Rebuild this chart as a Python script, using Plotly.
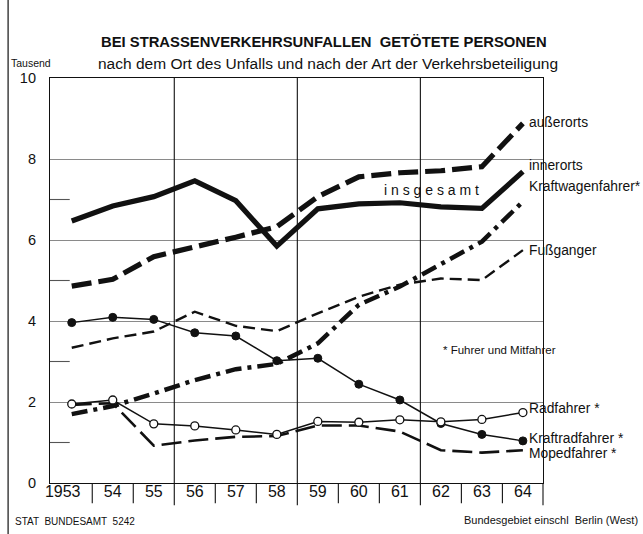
import plotly.graph_objects as go

# ---------------- data (Tausend) ----------------
years = [1953, 1954, 1955, 1956, 1957, 1958, 1959, 1960, 1961, 1962, 1963, 1964]
year_labels = ["1953", "54", "55", "56", "57", "58", "59", "60", "61", "62", "63", "64"]

ausserorts = [4.86, 5.03, 5.59, 5.82, 6.07, 6.33, 7.07, 7.56, 7.66, 7.71, 7.81, 8.88]
innerorts = [6.47, 6.84, 7.07, 7.46, 6.97, 5.85, 6.77, 6.89, 6.92, 6.82, 6.78, 7.69]
kraftwagenfahrer = [1.70, 1.90, 2.21, 2.54, 2.81, 2.94, 3.45, 4.40, 4.85, 5.42, 5.96, 6.95]
fussganger = [3.34, 3.57, 3.74, 4.23, 3.88, 3.75, 4.19, 4.60, 4.90, 5.05, 5.01, 5.75]
kraftradfahrer = [3.96, 4.09, 4.04, 3.71, 3.63, 3.02, 3.08, 2.44, 2.05, 1.47, 1.20, 1.04]
radfahrer = [1.95, 2.05, 1.46, 1.41, 1.31, 1.20, 1.52, 1.50, 1.56, 1.51, 1.57, 1.74]
mopedfahrer = [1.93, 1.97, 0.92, 1.05, 1.14, 1.16, 1.42, 1.42, 1.27, 0.81, 0.75, 0.81]

y_ticks = [0, 2, 4, 6, 8, 10]
y_minor = [1, 3, 5, 7]
major_x_grid = [1955.5, 1958.5, 1961.5]
minor_x_sep = [1953.5, 1954.5, 1956.5, 1957.5, 1959.5, 1960.5, 1962.5, 1963.5]

# end labels: (text, y-value of label)
end_labels = [
    ("außerorts", 8.91),
    ("innerorts", 7.83),
    ("Kraftwagenfahrer*", 7.31),
    ("Fußganger", 5.73),
    ("Radfahrer *", 1.85),
    ("Kraftradfahrer *", 1.11),
    ("Mopedfahrer *", 0.74),
]

# ---------------- styling ----------------
INK = "#111111"
SANS = "Liberation Sans, Arial, sans-serif"
X0, X1 = 1952.47, 1964.49

fig = go.Figure()

def line(y, width, dash, name, mode="lines", marker=None):
    fig.add_trace(go.Scatter(
        x=years, y=y, mode=mode, name=name,
        line=dict(color=INK, width=width, dash=dash),
        marker=marker, showlegend=False, hoverinfo="skip", cliponaxis=False,
    ))

line(mopedfahrer, 2.6, "20px,7px", "Mopedfahrer")
line(fussganger, 2.4, "12px,6px", "Fußganger")
line(kraftwagenfahrer, 4.5, "16px,6px,4px,6px", "Kraftwagenfahrer")
line(ausserorts, 5.2, "20px,7px", "außerorts")
line(innerorts, 5.2, "solid", "innerorts")
line(kraftradfahrer, 1.5, "solid", "Kraftradfahrer", mode="lines+markers",
     marker=dict(size=8, color=INK, line=dict(color=INK, width=1)))
line(radfahrer, 1.5, "solid", "Radfahrer", mode="lines+markers",
     marker=dict(size=8, color="white", line=dict(color=INK, width=1.3)))

shapes = []
for gx in major_x_grid:
    shapes.append(dict(type="line", xref="x", yref="paper", x0=gx, x1=gx, y0=-0.055, y1=1,
                       line=dict(color=INK, width=1.1)))
for sx in minor_x_sep:
    shapes.append(dict(type="line", xref="x", yref="paper", x0=sx, x1=sx, y0=-0.05, y1=0,
                       line=dict(color=INK, width=1.1)))
shapes.append(dict(type="line", xref="paper", yref="paper", x0=1, x1=1, y0=-0.055, y1=0,
                   line=dict(color=INK, width=1.1)))
for my in y_minor:
    shapes.append(dict(type="line", xref="paper", yref="y", x0=0, x1=0.04, y0=my, y1=my,
                       line=dict(color="#555555", width=1.1)))
shapes.append(dict(type="line", xref="paper", yref="paper", x0=-0.085, x1=-0.085, y0=-0.13, y1=1.2,
                   line=dict(color=INK, width=1.2)))

annotations = []
annotations.append(dict(text="<b>BEI STRASSENVERKEHRSUNFALLEN  GETÖTETE PERSONEN</b>",
                        xref="paper", yref="paper", x=0.555, y=1.089, showarrow=False,
                        xanchor="center", yanchor="middle",
                        font=dict(family=SANS, size=14.8, color=INK)))
annotations.append(dict(text="nach dem Ort des Unfalls und nach der Art der Verkehrsbeteiligung",
                        xref="paper", yref="paper", x=0.563, y=1.037, showarrow=False,
                        xanchor="center", yanchor="middle",
                        font=dict(family=SANS, size=15.5, color=INK)))
annotations.append(dict(text="Tausend", xref="paper", yref="paper", x=-0.083, y=1.037,
                        showarrow=False, xanchor="left", yanchor="middle",
                        font=dict(family=SANS, size=10.5, color=INK)))
annotations.append(dict(text="i n s g e s a m t", xref="x", yref="y", x=1961.78, y=7.23,
                        showarrow=False, xanchor="center", yanchor="middle",
                        font=dict(family=SANS, size=14, color=INK)))
annotations.append(dict(text="* Fuhrer und Mitfahrer", xref="x", yref="y", x=1962.0, y=3.28,
                        showarrow=False, xanchor="left", yanchor="middle",
                        font=dict(family=SANS, size=11.5, color=INK)))
for txt, yv in end_labels:
    annotations.append(dict(text=txt, xref="paper", yref="y", x=0.968, y=yv,
                            showarrow=False, xanchor="left", yanchor="middle",
                            font=dict(family=SANS, size=13.8, color=INK)))
annotations.append(dict(text="STAT  BUNDESAMT  5242", xref="paper", yref="paper", x=-0.076, y=-0.096,
                        showarrow=False, xanchor="left", yanchor="middle",
                        font=dict(family=SANS, size=10, color=INK)))
annotations.append(dict(text="Bundesgebiet einschl  Berlin (West)", xref="paper", yref="paper",
                        x=1.197, y=-0.091, showarrow=False, xanchor="right", yanchor="middle",
                        font=dict(family=SANS, size=11, color=INK)))

tickvals_x = [years[0] - 0.22] + years[1:]

fig.update_layout(
    width=643, height=534,
    margin=dict(l=50, r=100, t=78, b=51),
    paper_bgcolor="white", plot_bgcolor="white",
    shapes=shapes, annotations=annotations,
    xaxis=dict(range=[X0, X1], tickvals=tickvals_x, ticktext=year_labels,
               showgrid=False, zeroline=False, showline=True, mirror=True,
               linecolor=INK, linewidth=1.4, ticks="", ticklabelstandoff=-6,
               tickfont=dict(family=SANS, size=16, color=INK)),
    yaxis=dict(range=[0, 10], tickvals=y_ticks, showgrid=True, gridcolor="#8a8a8a", gridwidth=1.1,
               zeroline=False, showline=True, mirror=True, linecolor=INK, linewidth=1.2,
               ticks="", ticklabelstandoff=10,
               tickfont=dict(family=SANS, size=14.5, color=INK)),
)

fig.write_html("out.html", config={"displayModeBar": False},
               post_script="document.body.style.margin='0';document.body.style.overflow='hidden';")
